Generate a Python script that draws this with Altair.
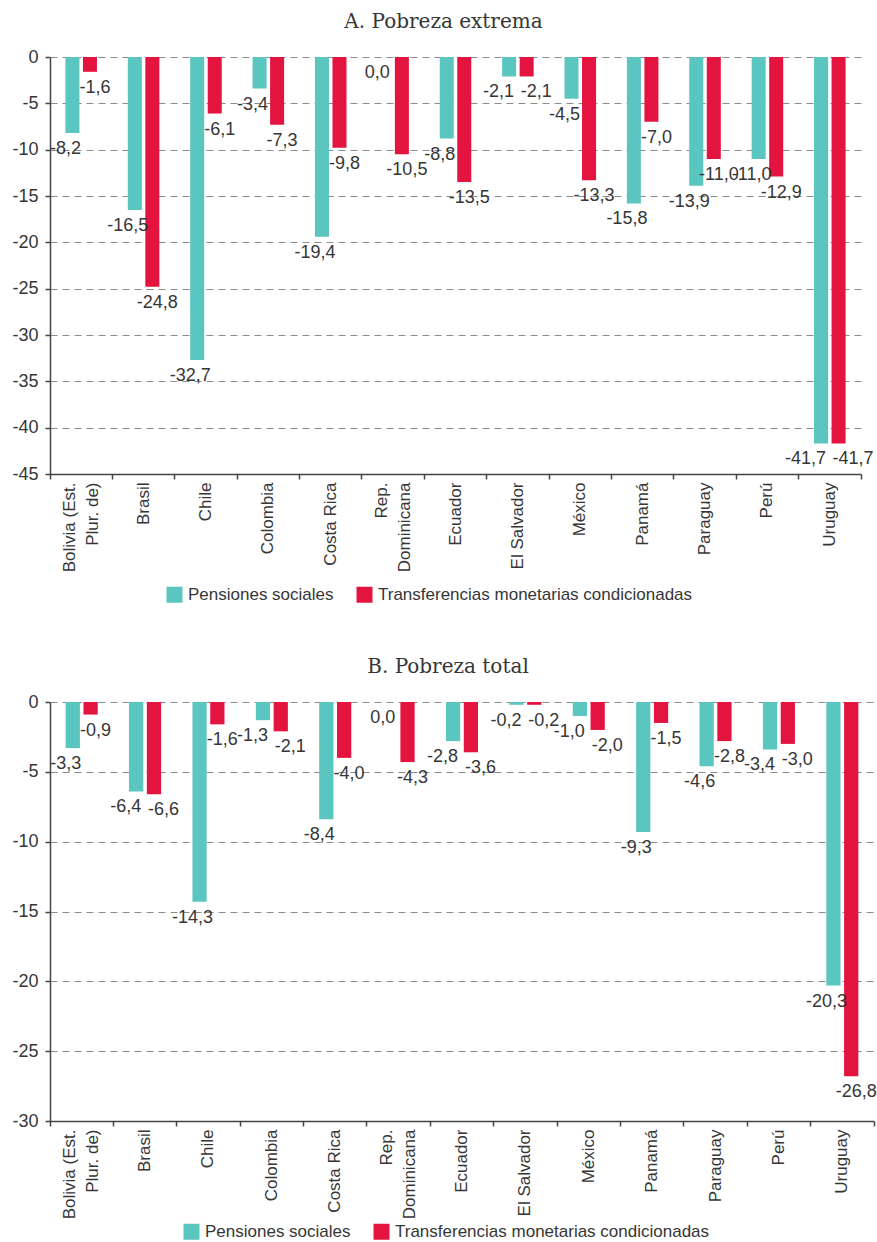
import altair as alt
import pandas as pd

# Países (eje x) y series
countries = [
    "Bolivia (Est. Plur. de)", "Brasil", "Chile", "Colombia", "Costa Rica",
    "Rep. Dominicana", "Ecuador", "El Salvador", "México", "Panamá",
    "Paraguay", "Perú", "Uruguay",
]
series = ["Pensiones sociales", "Transferencias monetarias condicionadas"]

# A. Pobreza extrema (puntos porcentuales)
ext_pensiones = [-8.2, -16.5, -32.7, -3.4, -19.4, 0.0, -8.8, -2.1, -4.5, -15.8, -13.9, -11.0, -41.7]
ext_transfer = [-1.6, -24.8, -6.1, -7.3, -9.8, -10.5, -13.5, -2.1, -13.3, -7.0, -11.0, -12.9, -41.7]

# B. Pobreza total (puntos porcentuales)
tot_pensiones = [-3.3, -6.4, -14.3, -1.3, -8.4, 0.0, -2.8, -0.2, -1.0, -9.3, -4.6, -3.4, -20.3]
tot_transfer = [-0.9, -6.6, -1.6, -2.1, -4.0, -4.3, -3.6, -0.2, -2.0, -1.5, -2.8, -3.0, -26.8]

colors = ["#5bc5bf", "#e31540"]
SANS = "Liberation Sans, Arial, Helvetica, sans-serif"
SERIF = "DejaVu Serif, serif"
TEXT = "#363636"
AXIS = "#444444"

TWO_LINE = "indexof(['Bolivia (Est. Plur. de)', 'Rep. Dominicana'], datum.value) >= 0"
LABEL_EXPR = (
    "datum.value == 'Bolivia (Est. Plur. de)' ? ['Bolivia (Est.', 'Plur. de)'] : "
    "datum.value == 'Rep. Dominicana' ? ['Rep.', 'Dominicana'] : datum.value"
)


def panel(pens, trans, title, ymin, width, height, legend_x, legend_y, title_dx):
    df = pd.DataFrame({
        "pais": countries * 2,
        "serie": [series[0]] * len(countries) + [series[1]] * len(countries),
        "valor": pens + trans,
    })
    df["etiqueta"] = df["valor"].map(lambda v: f"{v:.1f}".replace(".", ","))

    x = alt.X(
        "pais:N", sort=countries,
        scale=alt.Scale(paddingInner=0, paddingOuter=0),
        axis=alt.Axis(
            title=None, labelAngle=270, labelAlign="right", labelBaseline="middle",
            labelExpr=LABEL_EXPR, labelFont=SANS, labelFontSize=17, labelColor=TEXT,
            labelLineHeight=23,
            labelOffset={"condition": {"test": TWO_LINE, "value": -11.5}, "value": 0},
            labelPadding=3, bandPosition=1, tickExtra=True,
            tickSize=5, tickColor=AXIS, tickWidth=1.5,
            domainColor=AXIS, domainWidth=1.5, grid=False,
        ),
    )
    xo = alt.XOffset(
        "serie:N", sort=series,
        scale=alt.Scale(paddingInner=0.2, paddingOuter=0.88),
    )
    y = alt.Y(
        "valor:Q",
        scale=alt.Scale(domain=[ymin, 0], nice=False),
        axis=alt.Axis(
            title=None, values=list(range(0, ymin - 1, -5)),
            labelExpr="'' + datum.value", labelFont=SANS, labelFontSize=18,
            labelColor=TEXT, labelPadding=7, tickSize=5, tickColor=AXIS,
            tickWidth=1.5, domainColor=AXIS, domainWidth=1.5,
            grid=True, gridDash=[7, 5], gridColor="#8c8c8c", gridWidth=1,
            minExtent=45, maxExtent=45,
        ),
    )

    bars = alt.Chart(df).mark_bar().encode(
        x=x, xOffset=xo, y=y,
        color=alt.Color(
            "serie:N", sort=series,
            scale=alt.Scale(domain=series, range=colors),
            legend=alt.Legend(
                title=None, orient="none", legendX=legend_x, legendY=legend_y,
                direction="horizontal", symbolType="square", symbolSize=256,
                symbolStrokeWidth=0, symbolOpacity=1, labelFont=SANS,
                labelFontSize=17, labelColor=TEXT, labelOffset=5, labelLimit=500,
                columnPadding=22, padding=0,
            ),
        ),
    )

    # Value labels below each bar end. When both bars of a country end at
    # nearly the same height, the two labels are pushed apart (right / left
    # aligned around the pair's centre) so they do not run into each other.
    px_per_unit = height / -ymin
    gap = f"(datum.vmax - datum.vmin) * {px_per_unit}"
    label_specs = [
        (series[0], f"{gap} >= 15", "center", -7),
        (series[1], f"{gap} >= 15", "center", 5),
        (series[0], f"{gap} < 15", "right", 5),
        (series[1], f"{gap} < 15", "left", -6),
    ]
    labels = []
    for s, test, align, dx in label_specs:
        labels.append(
            alt.Chart(df)
            .transform_joinaggregate(vmin="min(valor)", vmax="max(valor)", groupby=["pais"])
            .transform_filter(f"datum.serie == '{s}' && {test}")
            .mark_text(baseline="top", align=align, dy=7, dx=dx,
                       font=SANS, fontSize=18, color=TEXT)
            .encode(x=x, xOffset=xo, y=y, text="etiqueta:N")
        )

    return alt.layer(bars, *labels).properties(
        width=width, height=height,
        title=alt.TitleParams(
            text=title, font=SERIF, fontSize=20, fontWeight="normal", color=TEXT,
            anchor="middle", dx=title_dx, offset=-4, baseline="bottom",
        ),
    )


top = panel(ext_pensiones, ext_transfer, "A. Pobreza extrema", -45, 811, 417, 116, 529, -12)
bottom = panel(tot_pensiones, tot_transfer, "B. Pobreza total", -30, 824, 419, 133, 521, -14)

chart = (
    alt.vconcat(top, bottom, spacing=54)
    .resolve_scale(x="independent", y="independent", color="independent", xOffset="independent")
    .resolve_legend(color="independent")
    .properties(padding={"left": 5, "top": 12, "right": 0, "bottom": 0})
    .configure_view(stroke=None)
)

chart.save("out.html", embed_options={"renderer": "svg", "actions": False})
